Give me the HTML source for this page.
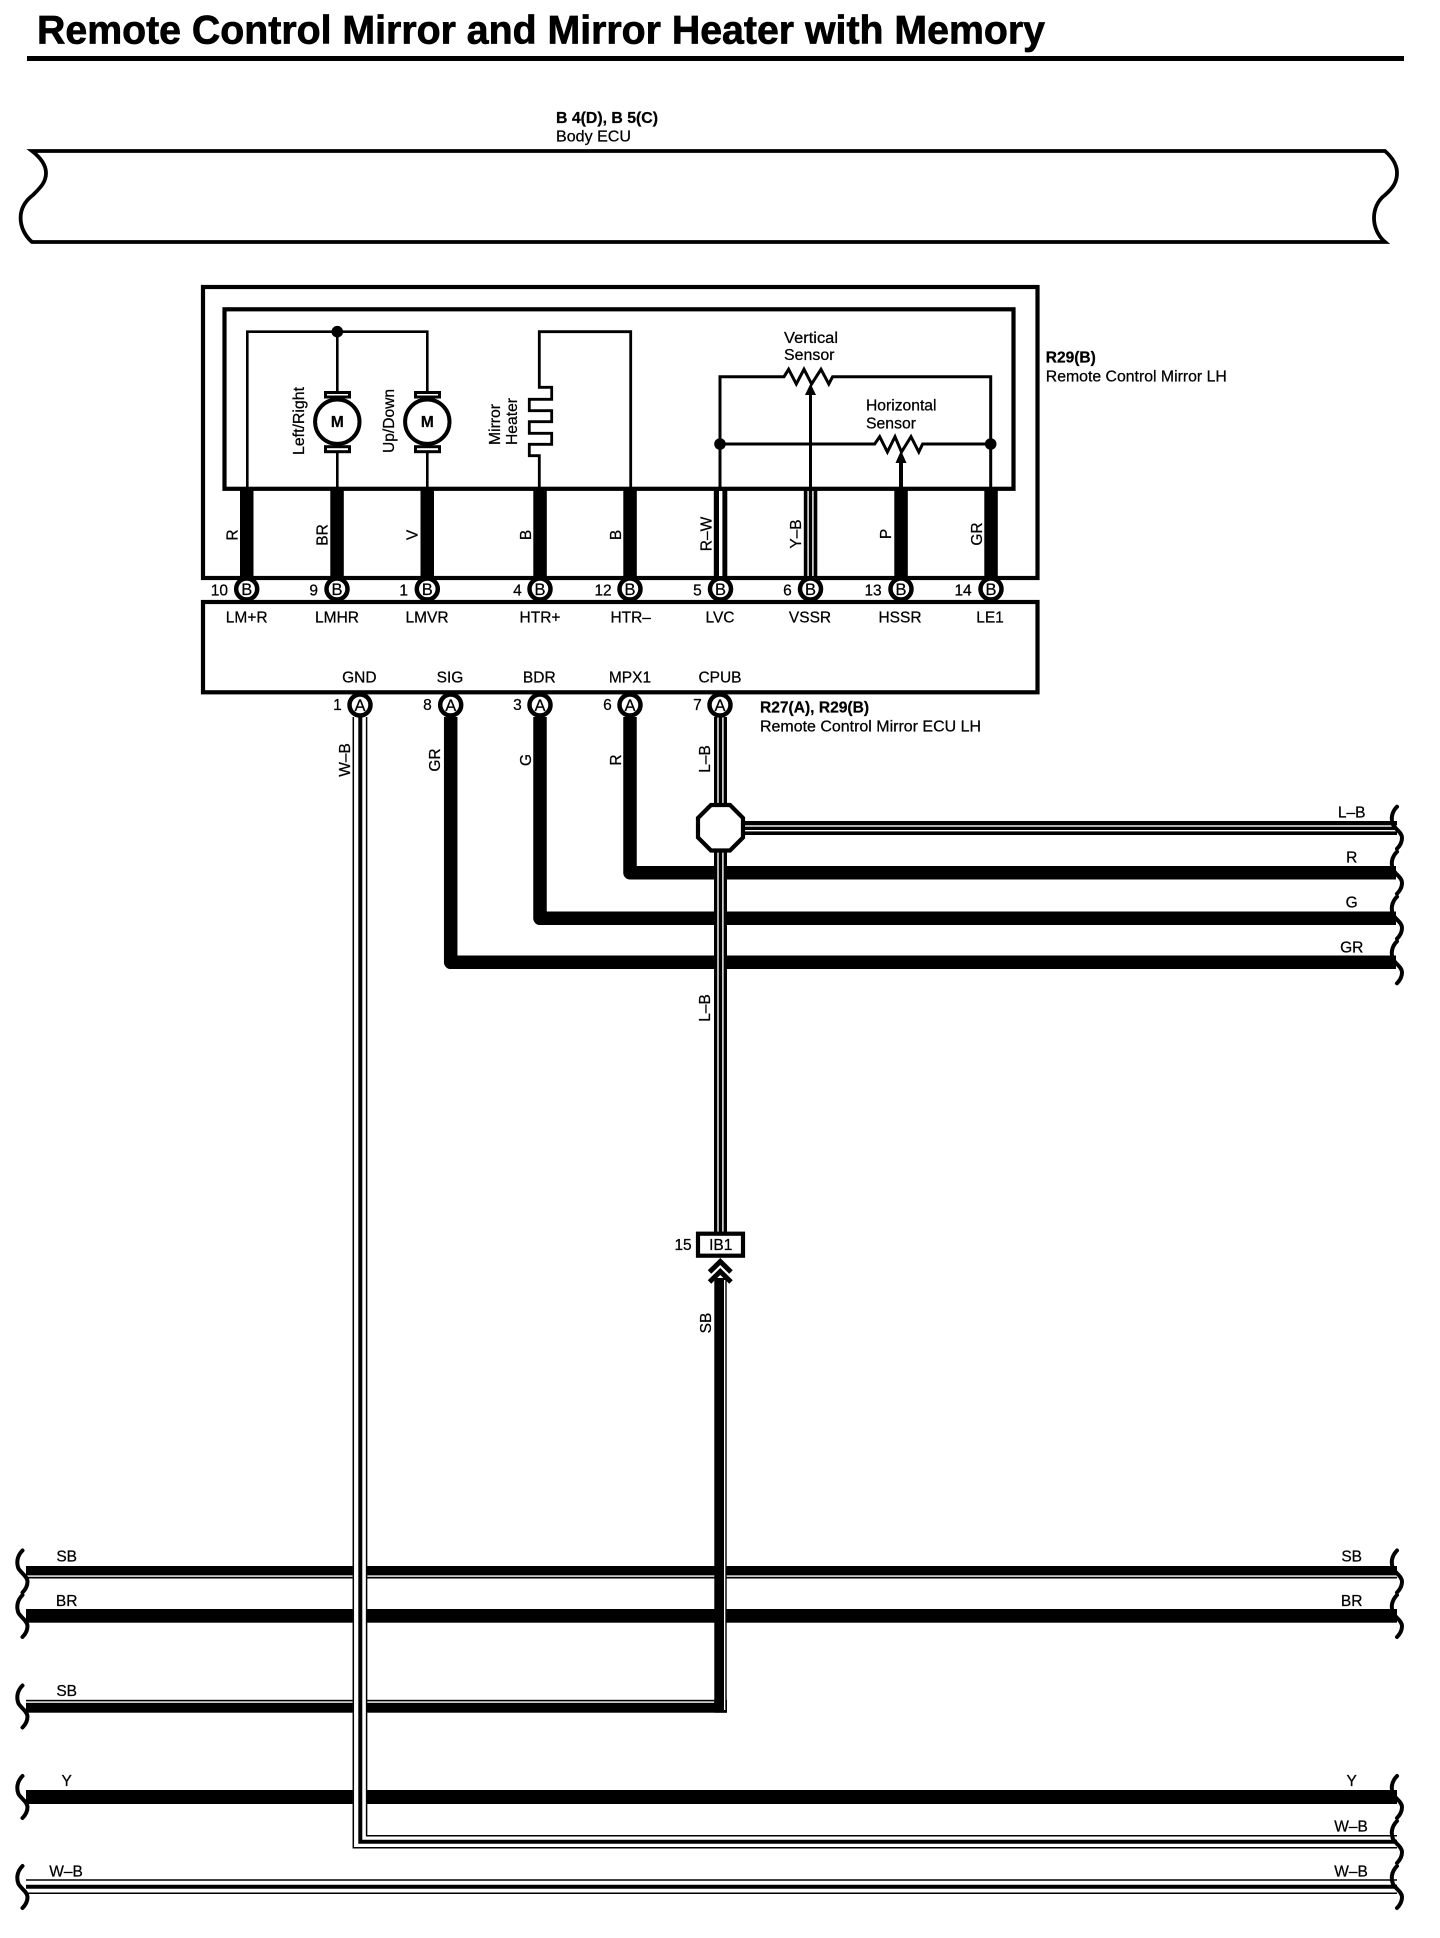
<!DOCTYPE html>
<html><head><meta charset="utf-8"><style>
html,body{margin:0;padding:0;background:#fff}
svg{display:block}
text{font-family:"Liberation Sans",sans-serif;font-size:15.5px;fill:#000;stroke:#000;stroke-width:.25px}
.m{text-anchor:middle}.e{text-anchor:end}.b{font-weight:bold}
.n{fill:none;stroke:#000}
.t{font-size:16.500px}
</style></head><body>
<svg width="1440" height="1938" viewBox="0 0 1440 1938" xmlns="http://www.w3.org/2000/svg">
<defs>
<path id="br" d="M1397,-21 C1391,-15 1391,-8 1393,-3 C1396,2 1402,5 1402,10 C1402,15 1400,18 1397,21" fill="none" stroke="#000" stroke-width="4" stroke-linecap="round"/>
</defs>
<rect width="1440" height="1938" fill="#fff"/>
<text x="37" y="43.500" class="b" style="font-size:40px;stroke-width:.7px" textLength="1008" lengthAdjust="spacingAndGlyphs">Remote Control Mirror and Mirror Heater with Memory</text>
<rect x="27" y="56" width="1377" height="5" fill="#000"/>

<text x="556" y="123" class="b" textLength="102" lengthAdjust="spacingAndGlyphs">B 4(D), B 5(C)</text>
<text x="556" y="141.500" textLength="75" lengthAdjust="spacingAndGlyphs">Body ECU</text>
<path class="n" stroke-width="3.800" d="M32,151 H1385 C1393,158 1397,165 1397,173 C1397,182 1393,188 1385,195 C1377,201 1374,210 1374,218 C1374,227 1378,236 1385,242 H32 C25,236 20.600,227 20.600,218 C20.600,208 25,201 33,195 C41,187 46,182 46,173 C46,165 41,158 32,151 Z"/>

<!-- component outer box and inner box -->
<rect class="n" x="203" y="287" width="834.500" height="291" stroke-width="4.200"/>
<rect class="n" x="224.500" y="309.300" width="789" height="179.500" stroke-width="4.200"/>

<!-- motors wiring -->
<path class="n" stroke-width="2.600" d="M247.300,489 V331.700 H427.300 V489 M337.300,331.700 V489"/>
<circle cx="337.300" cy="331.700" r="5.800"/>
<rect x="325.500" y="392.500" width="24" height="4.500" fill="#fff" stroke="#000" stroke-width="3"/>
<rect x="325.500" y="446.700" width="24" height="5" fill="#fff" stroke="#000" stroke-width="3"/>
<circle cx="337.300" cy="421.700" r="22.200" fill="#fff" stroke="#000" stroke-width="4"/>
<text x="337.300" y="427" class="m b" style="font-size:15.500px">M</text>
<rect x="415.500" y="392.500" width="24" height="4.500" fill="#fff" stroke="#000" stroke-width="3"/>
<rect x="415.500" y="446.700" width="24" height="5" fill="#fff" stroke="#000" stroke-width="3"/>
<circle cx="427.300" cy="421.700" r="22.200" fill="#fff" stroke="#000" stroke-width="4"/>
<text x="427.300" y="427" class="m b" style="font-size:15.500px">M</text>
<text transform="translate(304,455) rotate(-90)" textLength="68" lengthAdjust="spacingAndGlyphs">Left/Right</text>
<text transform="translate(394,453) rotate(-90)" textLength="64" lengthAdjust="spacingAndGlyphs">Up/Down</text>
<text transform="translate(500,445) rotate(-90)" textLength="41" lengthAdjust="spacingAndGlyphs">Mirror</text>
<text transform="translate(517,445) rotate(-90)" textLength="47" lengthAdjust="spacingAndGlyphs">Heater</text>

<!-- heater -->
<path class="n" stroke-width="2.800" d="M539.300,489 V455.700 H529.300 V444.300 H551.700 V433.300 H529.300 V421.700 H551.700 V410.700 H529.300 V399.300 H551.700 V387.300 H539.300 V331.700 H630.700 V489"/>

<!-- sensors -->
<path class="n" stroke-width="3" stroke-linejoin="miter" d="M720,489 V376.700 H784 L788.600,369.300 L796.300,384 L804,369.300 L811.600,384 L821,369.300 L828.800,384 L832.600,376.700 H990.700 V489"/>
<path class="n" stroke-width="3" d="M720,444 H874.700 L879.700,436.700 L887.400,452 L895,436.700 L901.500,452 L911,436.700 L918.800,452 L922.600,444 H990.700"/>
<circle cx="720" cy="444" r="5.800"/><circle cx="990.700" cy="444" r="5.800"/>
<path class="n" stroke-width="3" d="M810.500,489 V392"/>
<path d="M810.500,383.500 L816,395 H805 Z"/>
<path class="n" stroke-width="4" d="M901,489 V460"/>
<path d="M901,450.500 L906.500,463 H895.500 Z"/>
<text x="784" y="343" textLength="54" lengthAdjust="spacingAndGlyphs">Vertical</text>
<text x="784" y="360" textLength="50.500" lengthAdjust="spacingAndGlyphs">Sensor</text>
<text x="866" y="410.700" textLength="70.500" lengthAdjust="spacingAndGlyphs">Horizontal</text>
<text x="866" y="428.300" textLength="50" lengthAdjust="spacingAndGlyphs">Sensor</text>
<text x="1045.800" y="362.700" class="b" textLength="50" lengthAdjust="spacingAndGlyphs">R29(B)</text>
<text x="1045.800" y="381.700" textLength="181" lengthAdjust="spacingAndGlyphs">Remote Control Mirror LH</text>

<!-- thick wires upper -->
<g fill="#000">
<rect x="240" y="489" width="13.500" height="90"/>
<rect x="330.300" y="489" width="13.500" height="90"/>
<rect x="420.500" y="489" width="13.500" height="90"/>
<rect x="533.300" y="489" width="13.500" height="90"/>
<rect x="623.300" y="489" width="13.500" height="90"/>
<rect x="713.800" y="489" width="13.500" height="90"/>
<rect x="803.800" y="489" width="13.500" height="90"/>
<rect x="894.300" y="489" width="13.500" height="90"/>
<rect x="984.300" y="489" width="13.500" height="90"/>
</g>
<rect x="719" y="491" width="3.400" height="85" fill="#fff"/>
<rect x="807.400" y="491" width="1.400" height="85" fill="#fff"/>
<rect x="812.200" y="491" width="1.400" height="85" fill="#fff"/>

<!-- ecu box -->
<rect class="n" x="203" y="602" width="834.500" height="90.300" stroke-width="4.200" fill="#fff"/>

<!-- wire labels upper -->
<text class="m" transform="translate(237.300,535) rotate(-90)">R</text>
<text class="m" transform="translate(327.300,535) rotate(-90)">BR</text>
<text class="m" transform="translate(417.700,535) rotate(-90)">V</text>
<text class="m" transform="translate(531,535) rotate(-90)">B</text>
<text class="m" transform="translate(621,535) rotate(-90)">B</text>
<text class="m" transform="translate(711.300,534) rotate(-90)">R–W</text>
<text class="m" transform="translate(801,534) rotate(-90)">Y–B</text>
<text class="m" transform="translate(891,534) rotate(-90)">P</text>
<text class="m" transform="translate(982,534) rotate(-90)">GR</text>

<!-- terminals B -->
<g fill="#fff" stroke="#000" stroke-width="4.500">
<circle cx="246.700" cy="589" r="10.500"/><circle cx="337" cy="589" r="10.500"/><circle cx="427.300" cy="589" r="10.500"/>
<circle cx="540" cy="589" r="10.500"/><circle cx="630" cy="589" r="10.500"/><circle cx="720.500" cy="589" r="10.500"/>
<circle cx="810.500" cy="589" r="10.500"/><circle cx="901" cy="589" r="10.500"/><circle cx="991" cy="589" r="10.500"/>
</g>
<text x="246.700" y="595" class="m t">B</text><text x="337" y="595" class="m t">B</text><text x="427.300" y="595" class="m t">B</text>
<text x="540" y="595" class="m t">B</text><text x="630" y="595" class="m t">B</text><text x="720.500" y="595" class="m t">B</text>
<text x="810.500" y="595" class="m t">B</text><text x="901" y="595" class="m t">B</text><text x="991" y="595" class="m t">B</text>
<text x="228" y="595.500" class="e">10</text><text x="318" y="595.500" class="e">9</text><text x="408" y="595.500" class="e">1</text>
<text x="521.700" y="595.500" class="e">4</text><text x="611.700" y="595.500" class="e">12</text><text x="701.700" y="595.500" class="e">5</text>
<text x="791.700" y="595.500" class="e">6</text><text x="881.700" y="595.500" class="e">13</text><text x="971.700" y="595.500" class="e">14</text>

<text x="246.700" y="622.300" class="m">LM+R</text><text x="337" y="622.300" class="m">LMHR</text><text x="427" y="622.300" class="m">LMVR</text>
<text x="540" y="622.300" class="m">HTR+</text><text x="630.700" y="622.300" class="m">HTR–</text><text x="720" y="622.300" class="m">LVC</text>
<text x="810" y="622.300" class="m">VSSR</text><text x="900" y="622.300" class="m">HSSR</text><text x="990" y="622.300" class="m">LE1</text>
<text x="359.300" y="682.300" class="m">GND</text><text x="450" y="682.300" class="m">SIG</text><text x="539.300" y="682.300" class="m">BDR</text>
<text x="630" y="682.300" class="m">MPX1</text><text x="720" y="682.300" class="m">CPUB</text>

<!-- lower thick wires -->
<path class="n" stroke-width="13.500" stroke-linejoin="round" d="M450.700,717 V962.300 H1396"/>
<path class="n" stroke-width="13.500" stroke-linejoin="round" d="M540,717 V918.300 H1396"/>
<path class="n" stroke-width="13.500" stroke-linejoin="round" d="M630,717 V872.700 H1396"/>

<!-- bottom bus wires -->
<rect x="26" y="1566" width="1371" height="12.500" fill="#000"/>
<rect x="26" y="1575.400" width="1371" height="1.400" fill="#fff"/>
<rect x="26" y="1609" width="1371" height="13.700" fill="#000"/>
<rect x="26" y="1699.800" width="701" height="12.900" fill="#000"/>
<rect x="26" y="1701.400" width="688.300" height="1.400" fill="#fff"/>
<rect x="26" y="1790" width="1371" height="14" fill="#000"/>

<!-- L-B / SB vertical -->
<rect x="714" y="717" width="13" height="516" fill="#000"/>
<rect x="717.300" y="717" width="1.400" height="516" fill="#fff"/>
<rect x="722.200" y="717" width="1.400" height="516" fill="#fff"/>
<rect x="727" y="821" width="670" height="14" fill="#000"/>
<rect x="727" y="825.300" width="670" height="1.400" fill="#fff"/>
<rect x="727" y="830" width="670" height="1.400" fill="#fff"/>
<path d="M711,805 H730 L743,818 V837.500 L730,850.500 H711 L698,837.500 V818 Z" fill="#fff" stroke="#000" stroke-width="4.200"/>
<rect x="714.300" y="1278" width="12.400" height="434.700" fill="#000"/>
<rect x="724" y="1280" width="1.300" height="430" fill="#fff"/>

<!-- IB1 -->
<rect x="698" y="1233.700" width="45" height="22" fill="#fff" stroke="#000" stroke-width="4.200"/>
<text x="720.700" y="1250" class="m">IB1</text>
<text x="691.700" y="1250" class="e">15</text>
<path class="n" stroke-width="5" d="M709.500,1272 L720.300,1261.500 L731,1272"/>
<path class="n" stroke-width="5" d="M709.500,1282 L720.300,1271.500 L731,1282"/>

<!-- W-B lines -->
<rect x="352.700" y="717" width="14" height="1131.500" fill="#fff"/>
<path class="n" stroke-width="1.500" d="M353.300,717 V1847.700 H1397"/>
<path class="n" stroke-width="4" d="M360.300,717 V1841.700 H1397"/>
<path class="n" stroke-width="1.500" d="M366.600,717 V1835.700 H1397"/>
<path class="n" stroke-width="1.500" d="M26,1880 H1397 M26,1893.300 H1397"/>
<path class="n" stroke-width="4" d="M26,1886.700 H1397"/>

<!-- terminals A -->
<g fill="#fff" stroke="#000" stroke-width="4.500">
<circle cx="360" cy="705" r="10.500"/><circle cx="450.700" cy="705" r="10.500"/><circle cx="540" cy="705" r="10.500"/><circle cx="630" cy="705" r="10.500"/><circle cx="720" cy="705" r="10.500"/>
</g>
<text x="360" y="711" class="m t">A</text><text x="450.700" y="711" class="m t">A</text><text x="540" y="711" class="m t">A</text><text x="630" y="711" class="m t">A</text><text x="720" y="711" class="m t">A</text>
<text x="341.700" y="710" class="e">1</text><text x="431.700" y="710" class="e">8</text><text x="521.700" y="710" class="e">3</text><text x="611.700" y="710" class="e">6</text><text x="701.700" y="710" class="e">7</text>
<text x="760" y="712.300" class="b" textLength="109" lengthAdjust="spacingAndGlyphs">R27(A), R29(B)</text>
<text x="760" y="731.700" textLength="221" lengthAdjust="spacingAndGlyphs">Remote Control Mirror ECU LH</text>

<!-- rotated lower labels -->
<text class="m" transform="translate(350,760) rotate(-90)">W–B</text>
<text class="m" transform="translate(440,760) rotate(-90)">GR</text>
<text class="m" transform="translate(531,760) rotate(-90)">G</text>
<text class="m" transform="translate(621,760) rotate(-90)">R</text>
<text class="m" transform="translate(710,759) rotate(-90)">L–B</text>
<text class="m" transform="translate(710,1008) rotate(-90)">L–B</text>
<text class="m" transform="translate(711,1323) rotate(-90)">SB</text>

<!-- right labels -->
<text x="1351.700" y="817.300" class="m">L–B</text>
<text x="1351.700" y="862.700" class="m">R</text>
<text x="1351.700" y="907.700" class="m">G</text>
<text x="1351.700" y="952.700" class="m">GR</text>
<text x="1351.700" y="1561.700" class="m">SB</text>
<text x="1351.700" y="1606" class="m">BR</text>
<text x="1351.700" y="1786" class="m">Y</text>
<text x="1351" y="1831.700" class="m">W–B</text>
<text x="1351" y="1876.700" class="m">W–B</text>
<!-- left labels -->
<text x="66.700" y="1561.700" class="m">SB</text>
<text x="66.700" y="1606" class="m">BR</text>
<text x="66.700" y="1696" class="m">SB</text>
<text x="66.700" y="1786" class="m">Y</text>
<text x="66" y="1876.700" class="m">W–B</text>

<!-- braces right -->
<use href="#br" transform="translate(0,827.700)"/>
<use href="#br" transform="translate(0,872.700)"/>
<use href="#br" transform="translate(0,917.700)"/>
<use href="#br" transform="translate(0,962.300)"/>
<use href="#br" transform="translate(0,1571.500)"/>
<use href="#br" transform="translate(0,1616)"/>
<use href="#br" transform="translate(0,1797)"/>
<use href="#br" transform="translate(0,1842)"/>
<use href="#br" transform="translate(0,1887)"/>
<!-- braces left -->
<use href="#br" transform="translate(-1374.500,1571.500)"/>
<use href="#br" transform="translate(-1374.500,1616)"/>
<use href="#br" transform="translate(-1374.500,1706.500)"/>
<use href="#br" transform="translate(-1374.500,1797)"/>
<use href="#br" transform="translate(-1374.500,1887)"/>
</svg>
</body></html>
